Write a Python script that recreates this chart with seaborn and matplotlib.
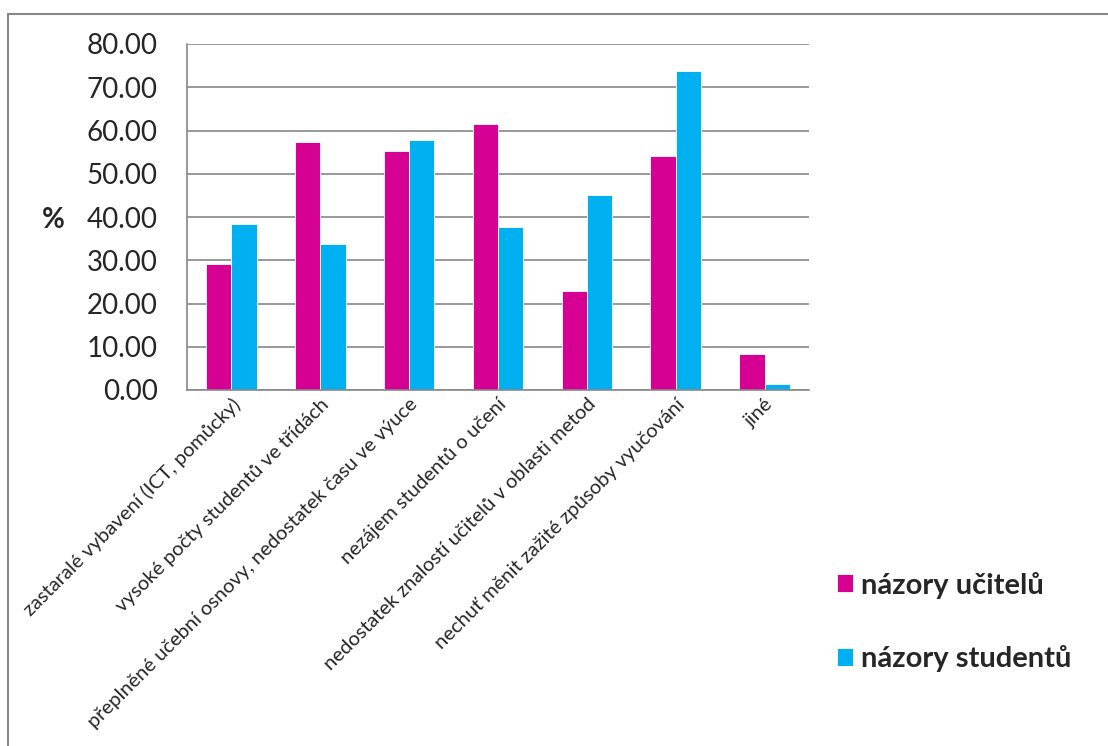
import matplotlib
matplotlib.use("Agg")
import matplotlib.pyplot as plt
from matplotlib.patches import Rectangle
import seaborn as sns
import pandas as pd

categories = [
    "zastaralé vybavení (ICT, pomůcky)",
    "vysoké počty studentů ve třídách",
    "přeplněné učební osnovy, nedostatek času ve výuce",
    "nezájem studentů o učení",
    "nedostatek znalostí učitelů v oblasti metod",
    "nechuť měnit zažité způsoby vyučování",
    "jiné",
]
teachers = [29.1, 57.3, 55.2, 61.4, 22.8, 54.1, 8.3]
students = [38.3, 33.8, 57.9, 37.6, 45.1, 73.7, 1.5]
series = ["názory učitelů", "názory studentů"]
yticks = [0, 10, 20, 30, 40, 50, 60, 70, 80]

df = pd.DataFrame({
    "kategorie": categories * 2,
    "hodnota": teachers + students,
    "skupina": [series[0]] * len(categories) + [series[1]] * len(categories),
})

sns.set_theme(style="white")
plt.rcParams["font.family"] = ["Lato", "DejaVu Sans"]

fig = plt.figure(figsize=(11.08, 7.46), dpi=100)
ax = fig.add_axes([187 / 1108, 1 - 390 / 746, 622 / 1108, 346 / 746])

sns.barplot(data=df, x="kategorie", y="hodnota", hue="skupina", ax=ax,
            palette=["#D60093", "#00B0F0"], width=0.57, saturation=1,
            edgecolor="white", linewidth=0.6)

ax.set_ylim(0, 80)
ax.set_yticks(yticks)
ax.set_yticklabels([f"{v:.2f}" for v in yticks], fontsize=20)
ax.tick_params(axis="y", length=0, pad=21)
ax.tick_params(axis="x", length=0, pad=4)
ax.set_xticks(range(len(categories)))
ax.set_xticklabels(categories, rotation=45, ha="right", rotation_mode="anchor", fontsize=14.5)
ax.yaxis.grid(True, color="#888888", linewidth=1.2)
ax.set_axisbelow(True)
for side in ["top", "right"]:
    ax.spines[side].set_visible(False)
for side in ["left", "bottom"]:
    ax.spines[side].set_color("#888888")
    ax.spines[side].set_linewidth(1.2)
ax.set_xlabel("")
ax.set_ylabel("%", rotation=0, fontsize=20, fontweight="bold", va="center", ha="center")
ax.yaxis.set_label_coords(-0.215, 0.49)

sns.move_legend(ax, "upper left", bbox_to_anchor=(822 / 1108, 1 - 557 / 746),
                bbox_transform=fig.transFigure, frameon=False, title=None,
                fontsize=21, handlelength=0.55, handleheight=0.55,
                handletextpad=0.3, labelspacing=1.6, borderpad=0)
for t in ax.get_legend().get_texts():
    t.set_fontweight("bold")

fig.add_artist(Rectangle((8 / 1108, -0.1), 1.2, 0.1 + 1 - 14 / 746,
                         transform=fig.transFigure, fill=False,
                         edgecolor="#888888", linewidth=1.5, clip_on=False))

fig.savefig("out.png", dpi=100)
